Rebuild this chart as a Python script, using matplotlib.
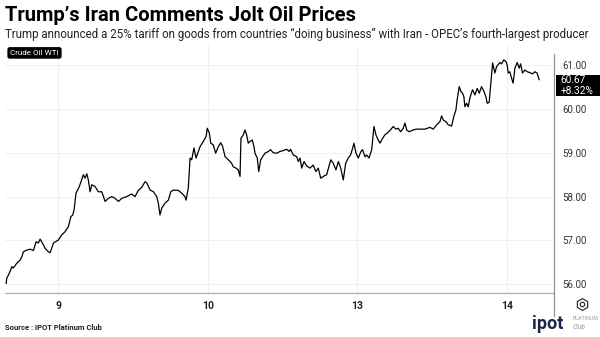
"""
Crude Oil WTI intraday - Trump's Iran comments
"""
import matplotlib.pyplot as plt
from matplotlib.lines import Line2D
from matplotlib.patches import Rectangle
import matplotlib.transforms as mtrans

plt.rcParams['font.family'] = ['Roboto', 'DejaVu Sans']

# session position (0 = day 9, 1 = day 10, ...) and WTI price
session_x = [
    -0.347, -0.343, -0.332, -0.321, -0.309, -0.299, -0.276, -0.254, -0.242, -0.232,
    -0.209, -0.187, -0.165, -0.147, -0.132, -0.120, -0.105, -0.087, -0.065, -0.053,
    -0.031, 0.002, 0.025, 0.047, 0.069, 0.085, 0.098, 0.107, 0.120, 0.142,
    0.169, 0.180, 0.192, 0.202, 0.214, 0.225, 0.247, 0.269, 0.292, 0.314,
    0.336, 0.359, 0.381, 0.403, 0.426, 0.459, 0.492, 0.514, 0.536, 0.559,
    0.581, 0.593, 0.615, 0.637, 0.659, 0.670, 0.681, 0.693, 0.715, 0.737,
    0.753, 0.770, 0.804, 0.826, 0.848, 0.855, 0.870, 0.882, 0.893, 0.908,
    0.922, 0.949, 0.971, 0.989, 0.997, 1.011, 1.020, 1.037, 1.053, 1.071,
    1.087, 1.100, 1.116, 1.138, 1.160, 1.171, 1.189, 1.204, 1.216, 1.222,
    1.238, 1.249, 1.260, 1.271, 1.283, 1.298, 1.309, 1.316, 1.331, 1.341,
    1.354, 1.367, 1.383, 1.405, 1.421, 1.438, 1.461, 1.483, 1.505, 1.528,
    1.545, 1.554, 1.572, 1.595, 1.605, 1.617, 1.628, 1.644, 1.661, 1.683,
    1.705, 1.723, 1.739, 1.755, 1.772, 1.795, 1.822, 1.839, 1.857, 1.873,
    1.889, 1.906, 1.922, 1.939, 1.955, 1.969, 1.977, 1.991, 2.006, 2.024,
    2.035, 2.051, 2.062, 2.078, 2.096, 2.111, 2.124, 2.140, 2.151, 2.169,
    2.184, 2.200, 2.218, 2.240, 2.258, 2.273, 2.289, 2.307, 2.318, 2.330,
    2.347, 2.373, 2.396, 2.418, 2.452, 2.485, 2.507, 2.530, 2.552, 2.563,
    2.574, 2.592, 2.607, 2.630, 2.645, 2.659, 2.667, 2.681, 2.692, 2.703,
    2.712, 2.719, 2.730, 2.741, 2.752, 2.770, 2.786, 2.801, 2.815, 2.830,
    2.846, 2.859, 2.868, 2.881, 2.890, 2.904, 2.919, 2.931, 2.941, 2.953,
    2.964, 2.979, 2.993, 3.001, 3.008, 3.019, 3.031, 3.041, 3.053, 3.068,
    3.082, 3.091, 3.104, 3.120, 3.135, 3.153, 3.171, 3.186, 3.201, 3.215,
]
price = [
    56.02, 56.14, 56.21, 56.29, 56.40, 56.37, 56.48, 56.55, 56.63, 56.74,
    56.78, 56.80, 56.77, 56.97, 56.94, 57.03, 56.94, 56.82, 56.74, 56.72,
    56.94, 57.01, 57.13, 57.20, 57.32, 57.54, 57.58, 57.70, 58.08, 58.23,
    58.50, 58.42, 58.52, 58.38, 58.11, 58.27, 58.23, 58.11, 58.11, 57.89,
    57.96, 58.00, 57.96, 57.89, 57.96, 58.00, 58.06, 58.00, 58.14, 58.21,
    58.34, 58.31, 58.15, 58.11, 58.00, 57.85, 57.58, 57.74, 57.85, 57.92,
    58.11, 58.15, 58.14, 58.08, 58.00, 57.92, 58.19, 58.88, 58.84, 59.11,
    58.88, 59.14, 59.26, 59.37, 59.56, 59.45, 59.22, 59.18, 58.99, 59.14,
    59.23, 59.14, 58.91, 58.84, 58.76, 58.68, 58.65, 58.61, 58.46, 59.33,
    59.41, 59.52, 59.41, 59.22, 59.26, 59.29, 59.14, 58.99, 58.88, 58.57,
    58.84, 58.91, 58.99, 59.03, 59.07, 59.00, 58.99, 59.03, 59.05, 59.08,
    59.03, 59.08, 58.95, 58.91, 58.80, 58.88, 58.65, 58.80, 58.70, 58.65,
    58.72, 58.57, 58.65, 58.42, 58.46, 58.50, 58.84, 58.76, 58.61, 58.80,
    58.65, 58.38, 58.76, 58.88, 58.95, 59.11, 59.22, 58.99, 58.88, 59.03,
    59.07, 58.91, 58.95, 58.88, 59.07, 59.60, 59.41, 59.29, 59.22, 59.33,
    59.41, 59.45, 59.51, 59.60, 59.54, 59.56, 59.48, 59.56, 59.68, 59.52,
    59.48, 59.52, 59.54, 59.54, 59.54, 59.58, 59.54, 59.64, 59.71, 59.84,
    59.75, 59.71, 59.64, 59.61, 59.83, 59.98, 60.21, 60.51, 60.40, 60.36,
    60.28, 60.05, 60.13, 60.05, 60.25, 60.44, 60.32, 60.47, 60.36, 60.51,
    60.40, 60.28, 60.13, 60.15, 60.51, 61.05, 60.82, 60.97, 61.01, 61.06,
    61.03, 61.12, 61.08, 61.01, 60.82, 60.85, 60.70, 60.59, 60.93, 61.06,
    60.93, 61.03, 60.82, 60.89, 60.85, 60.83, 60.80, 60.85, 60.82, 60.67,
]

tick_pos = [0, 1, 2, 3]
tick_labels = ['9', '10', '13', '14']
y_ticks = [56, 57, 58, 59, 60, 61]
last_price = 60.67
change_pct = 8.32

title = 'Trump\u2019s Iran Comments Jolt Oil Prices'
subtitle = ('Trump announced a 25% tariff on goods from countries \u201cdoing business\u201d '
            'with Iran - OPEC\u2019s fourth-largest producer')

fig = plt.figure(figsize=(6, 3.37), dpi=100)
fig.patch.set_facecolor('white')
ax = fig.add_axes([0.0083, 0.1306, 0.9147, 0.7359])

ax.plot(session_x, price, color='black', linewidth=0.9)

ax.set_xlim(-0.355, 3.313)
ax.set_ylim(55.80, 61.46)

ax.set_xticks(tick_pos)
ax.set_xticklabels(tick_labels, fontsize=7.5, fontweight='bold', color='#222222')
ax.set_yticks(y_ticks)
ax.set_yticklabels([f'{v:.2f}' for v in y_ticks], fontsize=7, color='#333333')
ax.yaxis.tick_right()
ax.tick_params(axis='both', length=0)
ax.tick_params(axis='y', pad=6)
ax.tick_params(axis='x', pad=6)

ax.grid(True, color='#f0f0f0', linewidth=0.8)
for side in ['top', 'left', 'right']:
    ax.spines[side].set_visible(False)
ax.spines['bottom'].set_color('#b0b0b0')
ax.spines['bottom'].set_linewidth(0.9)

# right axis divider runs a bit past the plot
fig.add_artist(Line2D([0.9233, 0.9233], [1 - 316 / 337, 1 - 54 / 337],
                      color='#909090', linewidth=0.9))

# last price box
blend = mtrans.blended_transform_factory(fig.transFigure, ax.transData)
ax.add_patch(Rectangle((0.926, last_price - 0.38), 0.08, 0.48, transform=blend,
                       facecolor='black', edgecolor='none', clip_on=False, zorder=5))
ax.text(0.934, last_price + 0.0, f'{last_price:.2f}', transform=blend, zorder=6,
        color='white', fontsize=7.3, va='center', ha='left')
ax.text(0.934, last_price - 0.25, f'+{change_pct:.2f}%', transform=blend, zorder=6,
        color='white', fontsize=7.3, va='center', ha='left')

# header texts
fig.text(0.009, 0.955, title, fontsize=14.5, fontweight='bold', va='center', ha='left')
fig.text(0.009, 0.898, subtitle, fontsize=8.3, color='#222222', va='center', ha='left')
fig.text(0.017, 0.843, 'Crude Oil WTI', fontsize=5.8, color='white', va='center', ha='left',
         bbox=dict(boxstyle='round,pad=0.35,rounding_size=0.3', facecolor='black',
                   edgecolor='none'))

# settings icon under the price axis
icon_x, icon_y = 582 / 600, 1 - 304 / 337
fig.add_artist(Line2D([icon_x], [icon_y], marker='h', markersize=8.5,
                      markerfacecolor='none', markeredgecolor='#333333',
                      markeredgewidth=0.9))
fig.add_artist(Line2D([icon_x], [icon_y], marker='o', markersize=3.2,
                      markerfacecolor='none', markeredgecolor='#333333',
                      markeredgewidth=0.9))

# footer
fig.text(0.009, 0.028, 'Source : IPOT Platinum Club', fontsize=5.5, fontweight='bold',
         color='#222222', va='center', ha='left')
fig.text(0.887, 0.038, 'ipot', fontsize=13, fontweight='bold', color='#1c2447',
         va='center', ha='left')
fig.text(0.955, 0.055, 'PLATINUM', fontsize=3.8, color='#999999', va='center', ha='left')
fig.text(0.955, 0.030, 'Club', fontsize=4.8, style='italic', color='#999999',
         va='center', ha='left')

plt.savefig('out.png', dpi=100)
plt.close()
